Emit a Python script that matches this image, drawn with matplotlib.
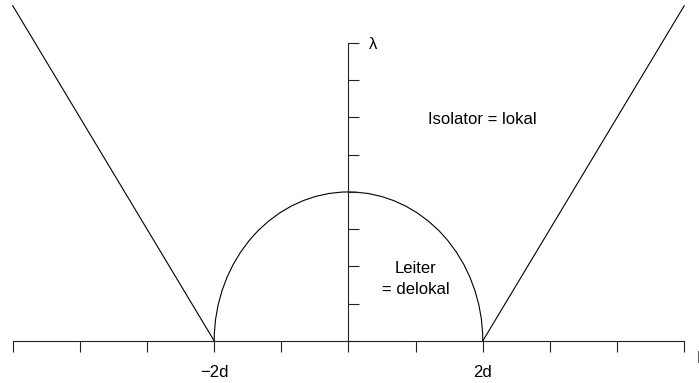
import matplotlib.pyplot as plt
from matplotlib.patches import Arc

plt.rcParams['font.family'] = ['Liberation Sans', 'DejaVu Sans']

# energy axis in units of d, lambda axis in plain units
e_ticks = [-5, -4, -3, -2, -1, 0, 1, 2, 3, 4, 5]
e_labels = ['', '', '', '\u22122d', '', '', '', '2d', '', '', '']
lam_ticks = [0, 1, 2, 3, 4, 5, 6, 7, 8]

# mobility edge: straight branches outside the band
left_e = [-5, -2]
left_lam = [9, 0]
right_e = [2, 5]
right_lam = [0, 9]

# band of the metal: half width 2d, top at lambda = 4
band_half = 2
band_top = 4

fig = plt.figure(figsize=(6.99, 3.83), dpi=100)
ax = fig.add_axes([0, 0, 1, 1])
ax.set_xlim(-5.19, 5.22)
ax.set_ylim(-1.13, 9.154)

ax.plot(left_e, left_lam, color='black', lw=0.8)
ax.plot(right_e, right_lam, color='black', lw=0.8)
ax.add_patch(Arc((0, 0), 2 * band_half, 2 * band_top, theta1=0, theta2=180,
                 color='black', lw=0.8))

# axes crossing at the origin
for side in ['top', 'right']:
    ax.spines[side].set_visible(False)
ax.spines['bottom'].set_position(('data', 0))
ax.spines['left'].set_position(('data', 0))
ax.spines['bottom'].set_bounds(-5, 5)
ax.spines['left'].set_bounds(0, 8)
for side in ['bottom', 'left']:
    ax.spines[side].set_linewidth(0.8)
    ax.spines[side].set_color('#222222')

ax.set_xticks(e_ticks)
ax.set_xticklabels(e_labels, fontsize=12)
ax.tick_params(axis='x', direction='out', length=8, width=0.8, color='#222222', pad=9)
ax.set_yticks(lam_ticks)
ax.set_yticklabels([])
ax.tick_params(axis='y', direction='in', length=8, width=0.8, color='#222222')

ax.text(0.3, 7.95, '\u03bb', fontsize=12, ha='left', va='center')
ax.text(5.18, -0.48, 'E', fontsize=12, ha='left', va='center')
ax.text(2, 5.95, 'Isolator = lokal', fontsize=12, ha='center', va='center')
ax.text(1, 1.66, 'Leiter\n= delokal', fontsize=12, ha='center', va='center',
        linespacing=1.55)

fig.savefig('out.png', dpi=100)
